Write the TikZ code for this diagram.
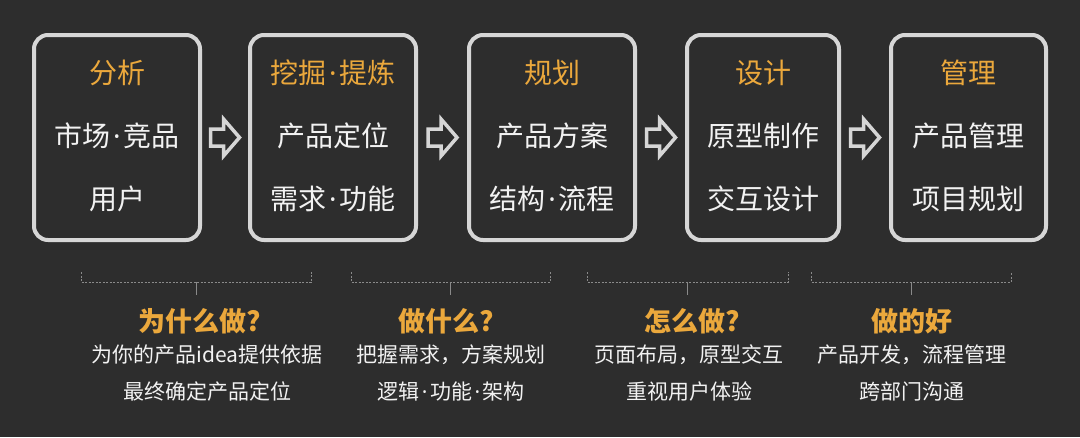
\documentclass[tikz,border=0pt]{standalone}
\usepackage{fontspec}
\setmainfont{Noto Sans CJK SC}
\newfontfamily\latinfont{Noto Sans}
\newcommand{\mdot}{\hspace{2.5pt}{\latinfont ·}\hspace{2.5pt}}
\usetikzlibrary{calc}
\definecolor{bg}{HTML}{2D2D2D}
\definecolor{boxline}{HTML}{D6D6D6}
\definecolor{orangetxt}{HTML}{EBA83C}
\definecolor{whitetxt}{HTML}{F2F2F2}
\definecolor{bracegray}{HTML}{8A8A8A}
\tikzset{
  stagebox/.style={draw=boxline, line width=4pt, rounded corners=14pt, fill=bg, minimum height=205pt},
  titletxt/.style={text=orangetxt, font=\fontsize{28}{32}\selectfont},
  itemtxt/.style={text=whitetxt, font=\fontsize{28}{32}\selectfont},
  headtxt/.style={text=orangetxt, font=\fontsize{27}{32}\selectfont\bfseries},
  subtxt/.style={text=whitetxt, font=\fontsize{21}{25}\selectfont},
  hollowarrow/.style={draw=boxline, line width=3.5pt, fill=bg, line join=miter},
  bracestyle/.style={draw=bracegray, line width=1pt, dash pattern=on 2pt off 1.5pt}
}
\newcommand{\flowarrow}[1]{%
  \draw[hollowarrow] ($(#1)+(-14.5,-8.5)$) -- ++(13,0) -- ++(0,-10) -- ++(16,18.5) -- ++(-16,18.5) -- ++(0,-10) -- ++(-13,0) -- cycle;}
\newcommand{\bracket}[4]{% name, left x, right x, center x
  \coordinate (#1l) at (#2,272);
  \coordinate (#1r) at (#3,272);
  \coordinate (#1c) at (#4,282);
  \draw[bracestyle] (#1l) -- (#2,282) -- (#3,282) -- (#1r);
  \draw[draw=bracegray, line width=1pt] (#1c) -- ++(0,13);}
\begin{document}
\begin{tikzpicture}[x=1pt,y=-1pt]
\fill[bg] (0,0) rectangle (1080,437);
\useasboundingbox (0,0) rectangle (1080,437);

% stage boxes
\node[stagebox, minimum width=166pt] (b1) at (117,137.5) {};
\node[stagebox, minimum width=166pt] (b2) at (333,137.5) {};
\node[stagebox, minimum width=166pt] (b3) at (552,137.5) {};
\node[stagebox, minimum width=152pt] (b4) at (763,137.5) {};
\node[stagebox, minimum width=155pt] (b5) at (968.5,137.5) {};

% box texts
\node[titletxt] (t1) at (117,73) {分析};
\node[itemtxt] (t1a) at (117,136) {市场\mdot 竞品};
\node[itemtxt] (t1b) at (117,199) {用户};

\node[titletxt] (t2) at (333,73) {挖掘\mdot 提炼};
\node[itemtxt] (t2a) at (333,136) {产品定位};
\node[itemtxt] (t2b) at (333,199) {需求\mdot 功能};

\node[titletxt] (t3) at (552,73) {规划};
\node[itemtxt] (t3a) at (552,136) {产品方案};
\node[itemtxt] (t3b) at (552,199) {结构\mdot 流程};

\node[titletxt] (t4) at (763,73) {设计};
\node[itemtxt] (t4a) at (763,136) {原型制作};
\node[itemtxt] (t4b) at (763,199) {交互设计};

\node[titletxt] (t5) at (968.5,73) {管理};
\node[itemtxt] (t5a) at (968.5,136) {产品管理};
\node[itemtxt] (t5b) at (968.5,199) {项目规划};

% arrows between boxes
\coordinate (m12) at ($(b1.east)!0.5!(b2.west)$);
\coordinate (m23) at ($(b2.east)!0.5!(b3.west)$);
\coordinate (m34) at ($(b3.east)!0.5!(b4.west)$);
\coordinate (m45) at ($(b4.east)!0.5!(b5.west)$);
\flowarrow{m12}
\flowarrow{m23}
\flowarrow{m34}
\flowarrow{m45}

% brackets
\bracket{k1}{81}{311}{196}
\bracket{k2}{351}{550}{450}
\bracket{k3}{587}{788}{687}
\bracket{k4}{811}{1011}{911}

% bottom texts
\node[headtxt] (h1) at (200,321) {为什么做?};
\node[subtxt] (s1a) at (207,355) {为你的产品idea提供依据};
\node[subtxt] (s1b) at (207,392) {最终确定产品定位};

\node[headtxt] (h2) at (446,321) {做什么?};
\node[subtxt] (s2a) at (451,355) {把握需求，方案规划};
\node[subtxt] (s2b) at (451,392) {逻辑\mdot 功能\mdot 架构};

\node[headtxt] (h3) at (692,321) {怎么做?};
\node[subtxt] (s3a) at (689,355) {页面布局，原型交互};
\node[subtxt] (s3b) at (689,392) {重视用户体验};

\node[headtxt] (h4) at (912,321) {做的好};
\node[subtxt] (s4a) at (912,355) {产品开发，流程管理};
\node[subtxt] (s4b) at (912,392) {跨部门沟通};
\end{tikzpicture}
\end{document}
